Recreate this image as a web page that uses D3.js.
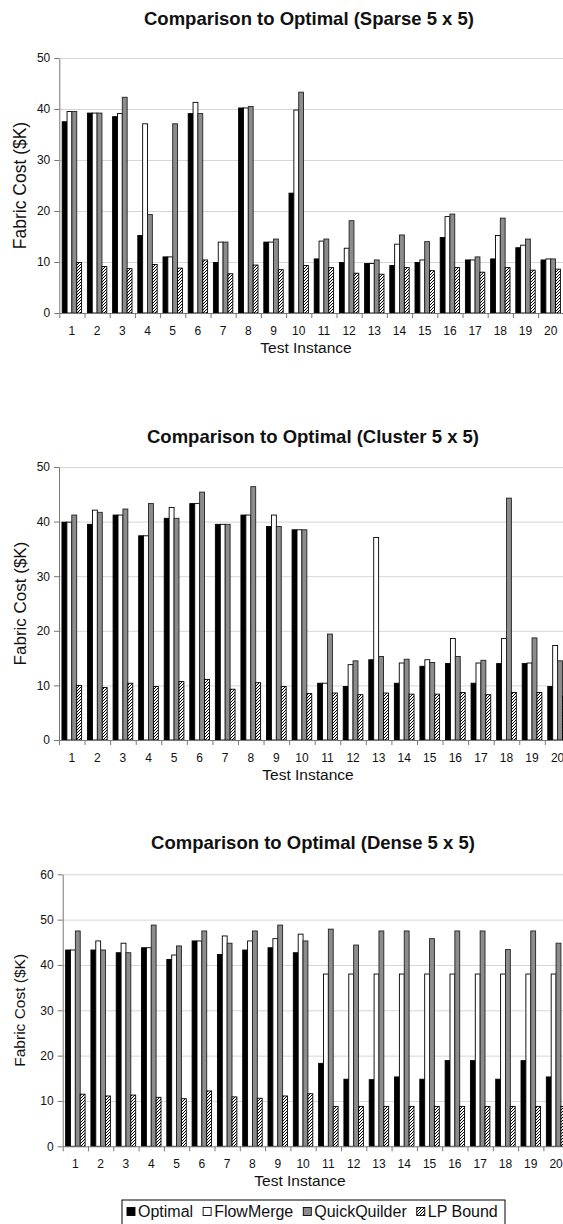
<!DOCTYPE html>
<html>
<head>
<meta charset="utf-8">
<script src="https://cdn.jsdelivr.net/npm/d3@7"></script>
<style>
  body { margin: 0; background: #fff; }
  text { font-family: "Liberation Sans", Arial, sans-serif; fill: #111; }
</style>
</head>
<body>
<svg id="chart" width="563" height="1224"></svg>
<script>
// categories and series
const categories = ["1","2","3","4","5","6","7","8","9","10","11","12","13","14","15","16","17","18","19","20"];
const seriesNames = ["Optimal", "FlowMerge", "QuickQuilder", "LP Bound"];

// Sparse 5 x 5
const sparseOptimal      = [37.5, 39.2, 38.5, 15.2, 11.0, 39.1,  9.9, 40.2, 13.9, 23.5, 10.6,  9.9,  9.7,  9.3,  9.9, 14.8, 10.4, 10.6, 12.8, 10.4];
const sparseFlowMerge    = [39.5, 39.2, 39.1, 37.1, 11.0, 41.3, 13.9, 40.2, 13.9, 39.8, 14.1, 12.7,  9.7, 13.5, 10.4, 18.9, 10.4, 15.2, 13.3, 10.6];
const sparseQuickQuilder = [39.5, 39.2, 42.3, 19.3, 37.1, 39.1, 13.9, 40.5, 14.5, 43.3, 14.5, 18.1, 10.4, 15.3, 14.0, 19.4, 11.0, 18.6, 14.5, 10.6];
const sparseLPBound      = [ 9.9,  9.1,  8.7,  9.5,  8.8, 10.4,  7.7,  9.4,  8.5,  9.3,  8.9,  7.8,  7.6,  8.9,  8.3,  8.9,  8.0,  8.9,  8.4,  8.6];

// Cluster 5 x 5
const clusterOptimal      = [39.9, 39.5, 41.2, 37.4, 40.6, 43.3, 39.5, 41.2, 39.1, 38.5, 10.4,  9.8, 14.7, 10.4, 13.5, 14.0, 10.4, 14.0, 14.0,  9.8];
const clusterFlowMerge    = [39.9, 42.1, 41.2, 37.4, 42.6, 43.3, 39.5, 41.2, 41.2, 38.5, 10.4, 13.8, 37.1, 14.1, 14.7, 18.6, 14.1, 18.6, 14.1, 17.3];
const clusterQuickQuilder = [41.2, 41.7, 42.3, 43.3, 40.6, 45.4, 39.5, 46.4, 39.1, 38.5, 19.4, 14.5, 15.3, 14.8, 14.2, 15.3, 14.6, 44.3, 18.7, 14.5];
const clusterLPBound      = [10.0,  9.6, 10.4,  9.8, 10.7, 11.1,  9.3, 10.5,  9.8,  8.5,  8.6,  8.3,  8.6,  8.4,  8.4,  8.7,  8.3,  8.7,  8.7,  8.0];

// Dense 5 x 5
const denseOptimal      = [43.3, 43.3, 42.7, 43.8, 41.2, 45.3, 42.3, 43.3, 43.8, 42.7, 18.3, 14.8, 14.7, 15.3, 14.8, 18.9, 18.9, 14.8, 18.9, 15.3];
const denseFlowMerge    = [43.3, 45.3, 44.8, 43.8, 42.2, 45.3, 46.4, 45.3, 45.8, 46.8, 38.0, 38.0, 38.0, 38.0, 38.0, 38.0, 38.0, 38.0, 38.0, 38.0];
const denseQuickQuilder = [47.5, 43.3, 42.7, 48.8, 44.2, 47.5, 44.8, 47.5, 48.8, 45.3, 47.9, 44.4, 47.5, 47.5, 45.8, 47.5, 47.5, 43.4, 47.5, 44.8];
const denseLPBound      = [11.5, 11.1, 11.3, 10.8, 10.5, 12.2, 10.9, 10.6, 11.1, 11.6,  8.8,  8.8,  8.8,  8.8,  8.8,  8.8,  8.8,  8.8,  8.8,  8.8];

const yTicks50 = [0, 10, 20, 30, 40, 50];
const yTicks60 = [0, 10, 20, 30, 40, 50, 60];

const charts = [
  { title: "Comparison to Optimal (Sparse 5 x 5)", values: [sparseOptimal, sparseFlowMerge, sparseQuickQuilder, sparseLPBound],
    ticks: yTicks50, left: 59.3, right: 563.3, top: 58, bottom: 313, titleX: 309, titleY: 25, yTitleSize: 17.5, xTitleX: 306 },
  { title: "Comparison to Optimal (Cluster 5 x 5)", values: [clusterOptimal, clusterFlowMerge, clusterQuickQuilder, clusterLPBound],
    ticks: yTicks50, left: 59, right: 570.4, top: 467, bottom: 740, titleX: 313, titleY: 443, yTitleSize: 17, xTitleX: 308 },
  { title: "Comparison to Optimal (Dense 5 x 5)", values: [denseOptimal, denseFlowMerge, denseQuickQuilder, denseLPBound],
    ticks: yTicks60, left: 62.7, right: 568.7, top: 874.3, bottom: 1146.3, titleX: 313, titleY: 849, yTitleSize: 15.5, xTitleX: 300 }
];

let svg = d3.select('#chart');

// hatched pattern for LP Bound
let defs = svg.append('defs');
let pattern = defs.append('pattern')
  .attr('id', 'hatch')
  .attr('patternUnits', 'userSpaceOnUse')
  .attr('width', 3).attr('height', 3);
pattern.append('rect').attr('width', 3).attr('height', 3).attr('fill', '#fff');
pattern.append('path')
  .attr('d', 'M-1,1 l2,-2 M0,3 l3,-3 M2,4 l2,-2')
  .attr('stroke', '#000').attr('stroke-width', 1);

const seriesFill = {
  "Optimal": "#000",
  "FlowMerge": "#fff",
  "QuickQuilder": "#8c8c8c",
  "LP Bound": "url(#hatch)"
};

function drawChart(c) {
  let g = svg.append('g');
  let max = c.ticks[c.ticks.length - 1];

  let x = d3.scaleBand().domain(categories).range([c.left, c.right]).padding(0);
  let xs = d3.scaleBand().domain(seriesNames).range([0, x.bandwidth()]).paddingInner(0).paddingOuter(0.6);
  let y = d3.scaleLinear().domain([0, max]).range([c.bottom, c.top]);

  // gridlines
  let grid = g.append('g')
    .attr('transform', `translate(${c.left},0)`)
    .call(d3.axisLeft(y).tickValues(c.ticks.slice(1)).tickSize(-(c.right - c.left)).tickFormat(''));
  grid.select('.domain').remove();
  grid.selectAll('line').attr('stroke', '#d6d6d6');

  // bars
  seriesNames.forEach((name, i) => {
    g.append('g').selectAll('rect')
      .data(c.values[i])
      .enter()
      .append('rect')
      .attr('x', (d, j) => x(categories[j]) + xs(name))
      .attr('y', d => y(d))
      .attr('width', xs.bandwidth())
      .attr('height', d => c.bottom - y(d))
      .attr('fill', seriesFill[name])
      .attr('stroke', name === 'QuickQuilder' ? '#222' : '#000')
      .attr('stroke-width', 0.9);
  });

  // y axis
  let yAxis = g.append('g')
    .attr('transform', `translate(${c.left},0)`)
    .call(d3.axisLeft(y).tickValues(c.ticks).tickSize(5).tickSizeOuter(0).tickPadding(4));
  yAxis.selectAll('.domain, line').attr('stroke', '#777');
  yAxis.selectAll('text').style('font-size', '12px').attr('fill', '#111');

  // x axis: boundary ticks
  let xb = d3.scaleLinear().domain([0, categories.length]).range([c.left, c.right]);
  let xAxis = g.append('g')
    .attr('transform', `translate(0,${c.bottom})`)
    .call(d3.axisBottom(xb).tickValues(d3.range(0, categories.length + 1)).tickSize(5).tickSizeOuter(0).tickFormat(''));
  xAxis.selectAll('.domain, line').attr('stroke', '#777');

  // x axis labels
  let xLabels = g.append('g')
    .attr('transform', `translate(0,${c.bottom})`)
    .call(d3.axisBottom(x).tickSize(0).tickPadding(13));
  xLabels.select('.domain').remove();
  xLabels.selectAll('text').style('font-size', '12px').attr('fill', '#111');

  // title
  g.append('text')
    .attr('x', c.titleX).attr('y', c.titleY)
    .attr('text-anchor', 'middle')
    .style('font-size', '18.5px').style('font-weight', 'bold')
    .text(c.title);

  // axis titles
  g.append('text')
    .attr('transform', `translate(20,${(c.top + c.bottom) / 2}) rotate(-90)`)
    .attr('text-anchor', 'middle')
    .attr('dy', '0.35em')
    .style('font-size', c.yTitleSize + 'px')
    .text('Fabric Cost ($K)');

  g.append('text')
    .attr('x', c.xTitleX).attr('y', c.bottom + 40)
    .attr('text-anchor', 'middle')
    .style('font-size', '15.5px')
    .text('Test Instance');
}

charts.forEach(drawChart);

// legend
let legend = svg.append('g');
legend.append('rect')
  .attr('x', 122).attr('y', 1200).attr('width', 383).attr('height', 30)
  .attr('fill', '#fff').attr('stroke', '#000').attr('stroke-width', 1);

let lx = 127;
seriesNames.forEach(name => {
  legend.append('rect')
    .attr('x', lx).attr('y', 1207.5).attr('width', 8).attr('height', 8)
    .attr('fill', seriesFill[name]).attr('stroke', '#000').attr('stroke-width', 0.9);
  let t = legend.append('text')
    .attr('x', lx + 11).attr('y', 1217)
    .style('font-size', '16px')
    .text(name);
  lx += 11 + t.node().getComputedTextLength() + 10;
});
</script>
</body>
</html>
